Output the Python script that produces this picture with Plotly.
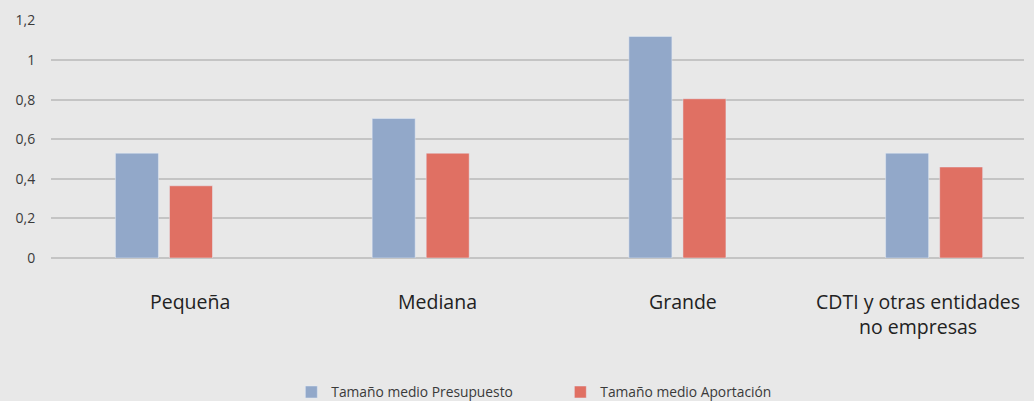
"""Tamaño medio de proyectos por tipo de entidad."""

import plotly.graph_objects as go

CATEGORIES = ["Pequeña", "Mediana", "Grande", "CDTI y otras entidades<br>no empresas"]
PRESUPUESTO = [0.53, 0.705, 1.12, 0.53]
APORTACION = [0.365, 0.53, 0.805, 0.46]
Y_TICKS = [0, 0.2, 0.4, 0.6, 0.8, 1.0, 1.2]
Y_TICK_LABELS = ["0", "0,2", "0,4", "0,6", "0,8", "1", "1,2"]

BG = "#e8e8e8"
FONT = "Open Sans, Noto Sans, sans-serif"
TEXT = "#3a3a3a"

# horizontal pixel centres of the category labels in the original layout
LABEL_PX = [190, 437, 683, 918]
L, R, W = 51, 10, 1034

fig = go.Figure()
fig.add_trace(go.Bar(
    x=list(range(len(CATEGORIES))), y=PRESUPUESTO,
    name="Tamaño medio Presupuesto", marker_color="#92a8c9",
))
fig.add_trace(go.Bar(
    x=list(range(len(CATEGORIES))), y=APORTACION,
    name="Tamaño medio Aportación", marker_color="#e07063",
))

for label, px in zip(CATEGORIES, LABEL_PX):
    fig.add_annotation(
        text=label, xref="paper", yref="paper",
        x=(px - L) / (W - L - R), xanchor="center",
        y=-0.118, yanchor="top", showarrow=False,
        font={"family": FONT, "size": 19.5, "color": "#222"}, align="center",
    )

fig.update_layout(
    width=W, height=401,
    margin={"l": L, "r": R, "t": 20, "b": 143, "autoexpand": False},
    paper_bgcolor=BG, plot_bgcolor=BG,
    barmode="group", bargap=0.579, bargroupgap=0.204,
    font={"family": FONT, "color": TEXT},
    showlegend=True,
    legend={
        "orientation": "h", "x": 0.247, "xanchor": "left",
        "y": -0.498, "yanchor": "top",
        "entrywidth": 224, "entrywidthmode": "pixels",
        "font": {"family": FONT, "size": 13.8, "color": TEXT},
        "bgcolor": "rgba(0,0,0,0)",
    },
    xaxis={
        "range": [-0.44, 3.35], "showticklabels": False, "showgrid": False,
        "zeroline": False, "showline": False, "fixedrange": True,
    },
    yaxis={
        "range": [0, 1.203], "tickvals": Y_TICKS, "ticktext": Y_TICK_LABELS,
        "showgrid": True, "gridcolor": "#c4c4c4", "gridwidth": 1.5,
        "zeroline": True, "zerolinecolor": "#c4c4c4", "zerolinewidth": 1.5,
        "ticks": "outside", "ticklen": 12, "tickcolor": "rgba(0,0,0,0)",
        "tickfont": {"family": FONT, "size": 14, "color": TEXT},
    },
)

fig.write_html(
    "out.html",
    config={"displayModeBar": False},
    post_script="document.body.style.margin='0';document.body.style.overflow='hidden';",
)
